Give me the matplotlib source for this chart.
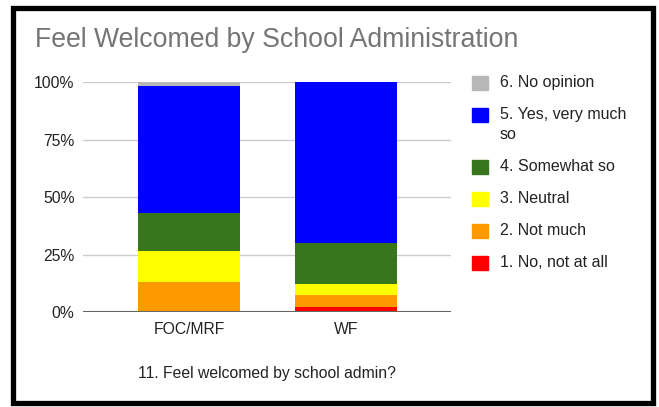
import numpy as np
import matplotlib.pyplot as plt
from matplotlib.patches import Rectangle

plt.rcParams['font.family'] = ['Liberation Sans', 'DejaVu Sans']

# Data: response counts per group (bottom to top of the stack)
groups = ['FOC/MRF', 'WF']
answers = ['1. No, not at all', '2. Not much', '3. Neutral',
           '4. Somewhat so', '5. Yes, very much\nso', '6. No opinion']
colors = ['#ff0000', '#ff9900', '#ffff00', '#38761d', '#0000ff', '#b7b7b7']
foc_mrf = [0, 8, 8, 10, 33, 1]
wf = [1, 2, 2, 7, 28, 0]
yticks = [0, 25, 50, 75, 100]

counts = np.array([foc_mrf, wf], dtype=float)
pct = counts / counts.sum(axis=1, keepdims=True) * 100

fig = plt.figure(figsize=(6.59, 4.07), dpi=100)
ax = fig.add_axes([0.1255, 0.2327, 0.5589, 0.5651])

x = np.arange(len(groups))
bottom = np.zeros(len(groups))
for i in range(len(answers)):
    ax.bar(x, pct[:, i], 0.65, bottom=bottom, color=colors[i], zorder=3)
    bottom += pct[:, i]

ax.set_xlim(-0.677, 1.669)
ax.set_ylim(0, 100)
ax.set_yticks(yticks)
ax.set_yticklabels([f'{t}%' for t in yticks], fontsize=11.3, color='#222222')
ax.set_xticks(x)
ax.set_xticklabels(groups, fontsize=11.3, color='#222222')
ax.tick_params(length=0, pad=7)
ax.tick_params(axis='y', pad=6)
ax.grid(axis='y', color='#cccccc', linewidth=1, zorder=0)
for s in ax.spines.values():
    s.set_visible(False)
ax.axhline(0, color='#666666', linewidth=1.5, zorder=4)
ax.set_xlabel('11. Feel welcomed by school admin?', fontsize=11.3,
              color='#222222', labelpad=21)

fig.text(35 / 659, 1 - 47 / 407, 'Feel Welcomed by School Administration',
         fontsize=19.2, color='#757575', va='baseline', ha='left')

# legend (top entry is the top of the stack)
ypix = 82.7
for i in reversed(range(len(answers))):
    yc = 1 - ypix / 407
    fig.patches.append(Rectangle((472 / 659, yc - 7 / 407), 16 / 659, 14 / 407,
                                 transform=fig.transFigure, color=colors[i]))
    fig.text(500 / 659, yc, answers[i].split('\n')[0], fontsize=11.5,
             color='#222222', va='center', ha='left')
    if '\n' in answers[i]:
        ypix += 20
        fig.text(500 / 659, 1 - ypix / 407, answers[i].split('\n')[1],
                 fontsize=11.5, color='#222222', va='center', ha='left')
    ypix += 32

# outer frame
fig.patches.append(Rectangle((12.5 / 659, 4.5 / 407), 640 / 659, 395 / 407,
                             transform=fig.transFigure, fill=False,
                             edgecolor='black', linewidth=3.8))

fig.savefig('out.png', dpi=100)
